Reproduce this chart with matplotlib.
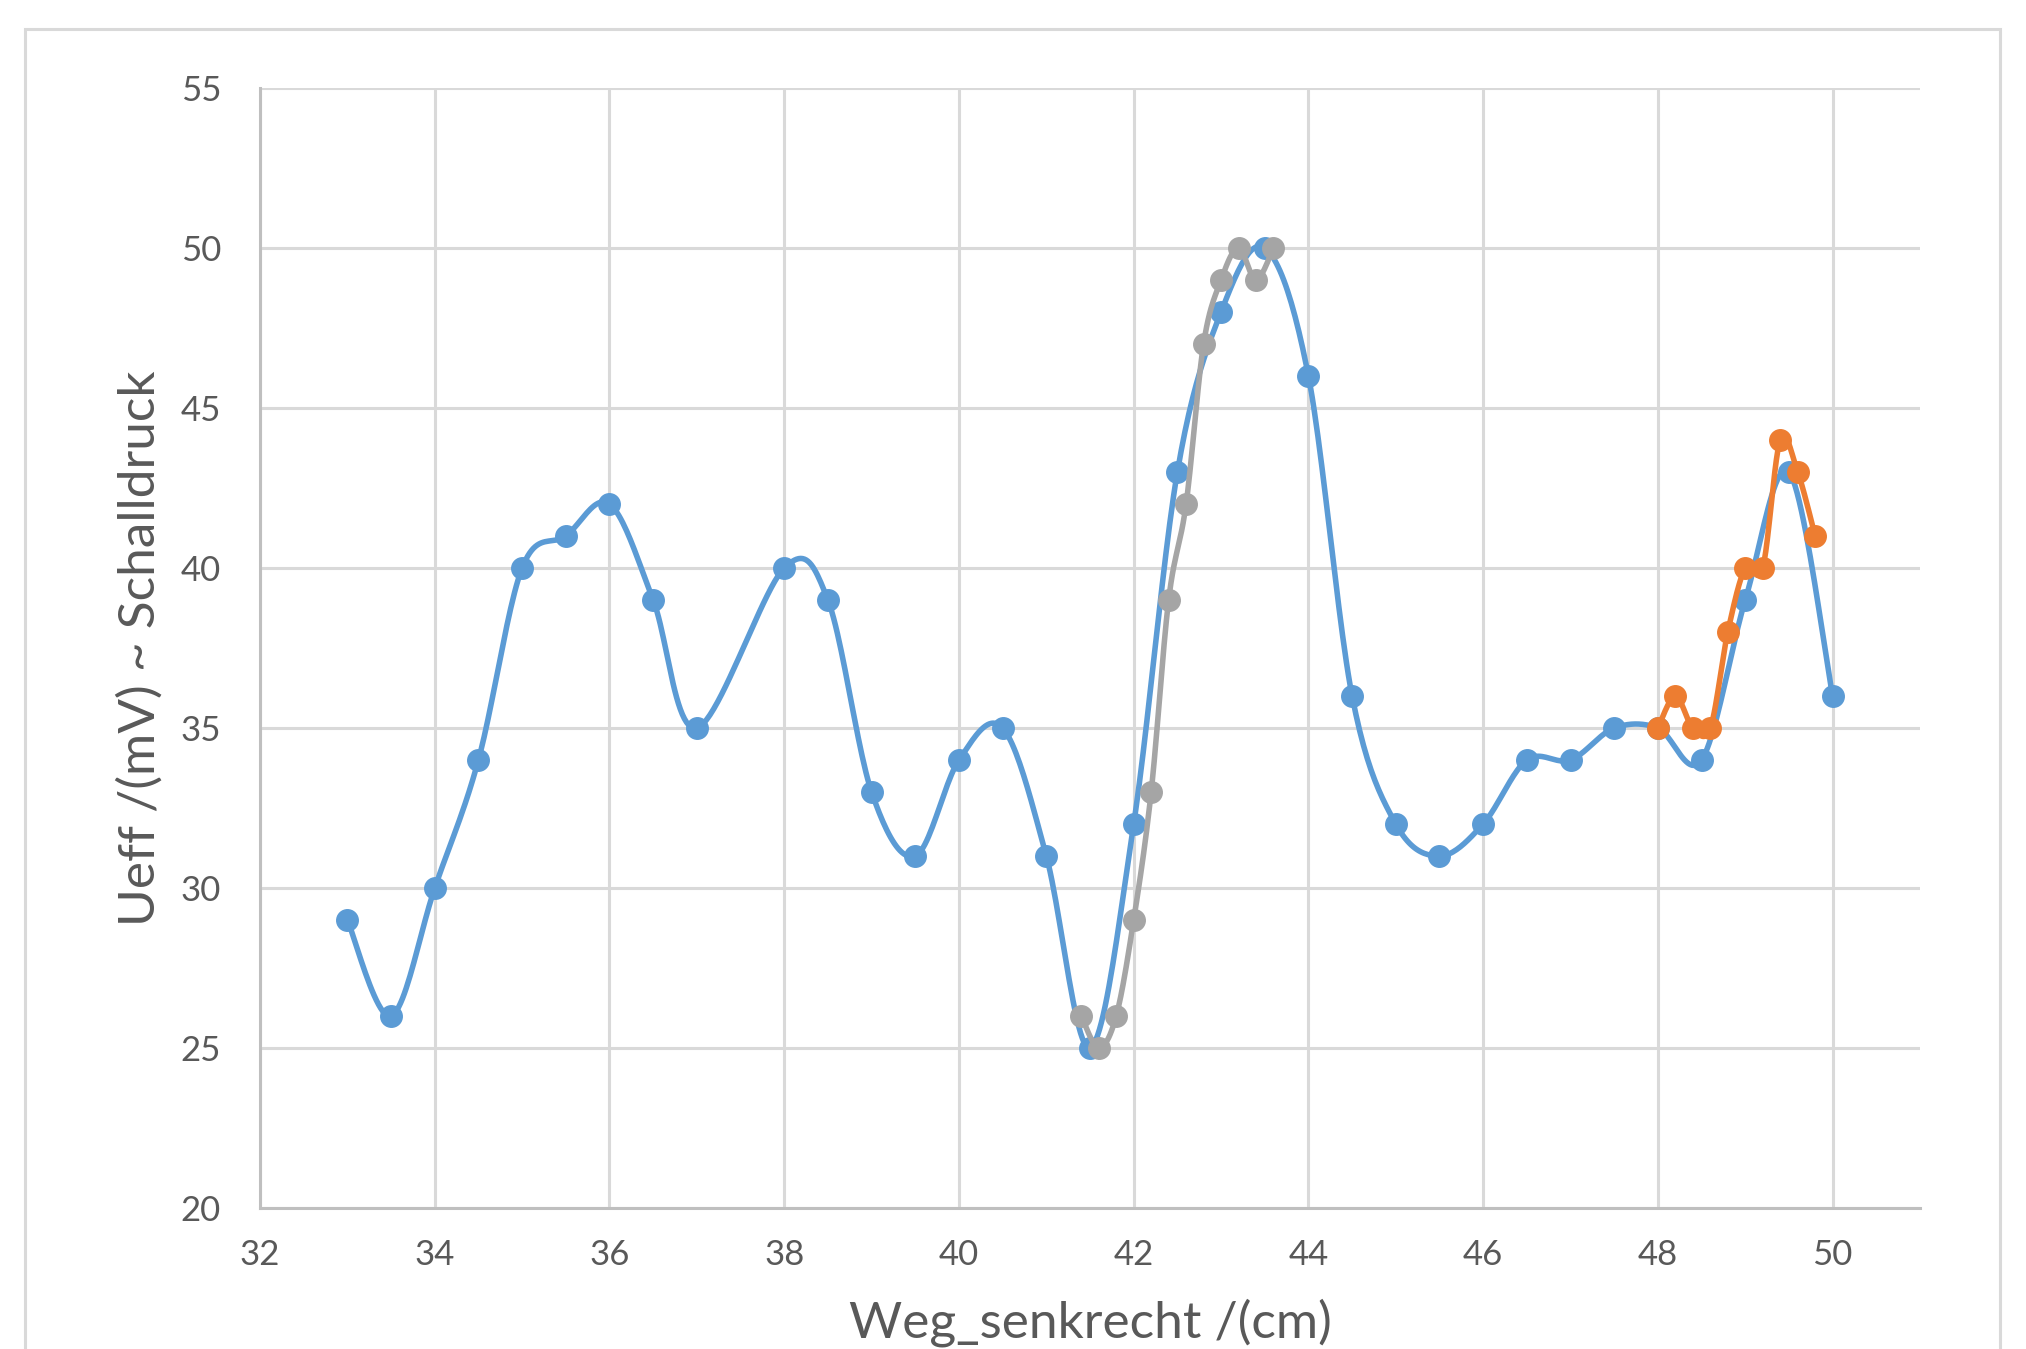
#!/usr/bin/env python3
"""Schalldruck (Ueff) entlang Weg_senkrecht: three measurement series, Excel-style smoothed lines."""

import matplotlib
matplotlib.use("Agg")
import matplotlib.pyplot as plt
import numpy as np

# ---------------------------------------------------------------------------
# Data
# ---------------------------------------------------------------------------

blue_x = [33, 33.5, 34, 34.5, 35, 35.5, 36, 36.5, 37, 38, 38.5, 39, 39.5, 40,
          40.5, 41, 41.5, 42, 42.5, 43, 43.5, 44, 44.5, 45, 45.5, 46, 46.5,
          47, 47.5, 48, 48.5, 49, 49.5, 50]
blue_y = [29, 26, 30, 34, 40, 41, 42, 39, 35, 40, 39, 33, 31, 34,
          35, 31, 25, 32, 43, 48, 50, 46, 36, 32, 31, 32, 34,
          34, 35, 35, 34, 39, 43, 36]

grey_x = [41.4, 41.6, 41.8, 42.0, 42.2, 42.4, 42.6, 42.8, 43.0, 43.2, 43.4, 43.6]
grey_y = [26, 25, 26, 29, 33, 39, 42, 47, 49, 50, 49, 50]

orange_x = [48.0, 48.2, 48.4, 48.6, 48.8, 49.0, 49.2, 49.4, 49.6, 49.8]
orange_y = [35, 36, 35, 35, 38, 40, 40, 44, 43, 41]

x_ticks = [32, 34, 36, 38, 40, 42, 44, 46, 48, 50]
y_ticks = [20, 25, 30, 35, 40, 45, 50, 55]

BLUE = "#5b9bd5"
GREY = "#a5a5a5"
ORANGE = "#ed7d31"


def excel_smooth(x, y, n=24):
    """Cubic Bezier through the points, control points like Excel's smoothed line."""
    pts = np.column_stack([x, y]).astype(float)
    t = np.linspace(0, 1, n)[:, None]
    out = [pts[:1]]
    for i in range(len(pts) - 1):
        p0 = pts[i - 1] if i > 0 else pts[i]
        p1, p2 = pts[i], pts[i + 1]
        p3 = pts[i + 2] if i + 2 < len(pts) else pts[i + 1]
        c1 = p1 + (p2 - p0) / 6
        c2 = p2 - (p3 - p1) / 6
        seg = ((1 - t) ** 3 * p1 + 3 * (1 - t) ** 2 * t * c1
               + 3 * (1 - t) * t ** 2 * c2 + t ** 3 * p2)
        out.append(seg[1:])
    s = np.vstack(out)
    return s[:, 0], s[:, 1]


plt.rcParams["font.family"] = ["Lato", "DejaVu Sans"]

fig = plt.figure(figsize=(20.26, 13.49), dpi=100)
ax = fig.add_axes([260 / 2026, 1 - 1208 / 1349, 1660 / 2026, 1120 / 1349])

# chart area border (runs off the bottom of the picture)
fig.patches.append(plt.Rectangle((25 / 2026, -0.05), 1975 / 2026, 1 - 29 / 1349 + 0.05,
                                 transform=fig.transFigure, fill=False,
                                 edgecolor="#d9d9d9", linewidth=2.2, clip_on=False))

for xs, ys, col in [(blue_x, blue_y, BLUE), (grey_x, grey_y, GREY), (orange_x, orange_y, ORANGE)]:
    sx, sy = excel_smooth(xs, ys)
    ax.plot(sx, sy, color=col, linewidth=4.0, solid_capstyle="round")
    ax.plot(xs, ys, linestyle="none", marker="o", markersize=15.5,
            markerfacecolor=col, markeredgecolor=col)

ax.set_xlim(32, 51)
ax.set_ylim(20, 55)
ax.set_xticks(x_ticks)
ax.set_yticks(y_ticks)
ax.grid(True, color="#d9d9d9", linewidth=2.2)
ax.set_axisbelow(True)

for side in ("top", "right"):
    ax.spines[side].set_visible(False)
for side in ("left", "bottom"):
    ax.spines[side].set_color("#bfbfbf")
    ax.spines[side].set_linewidth(2.2)

ax.tick_params(length=0, labelsize=25, labelcolor="#595959")
ax.tick_params(axis="y", pad=28)
ax.tick_params(axis="x", pad=22)

ax.set_xlabel("Weg_senkrecht /(cm)", fontsize=37, color="#595959", labelpad=20)
ax.set_ylabel("Ueff /(mV) ~ Schalldruck", fontsize=37, color="#595959", labelpad=12)

plt.savefig("out.png", dpi=100)
plt.close()
